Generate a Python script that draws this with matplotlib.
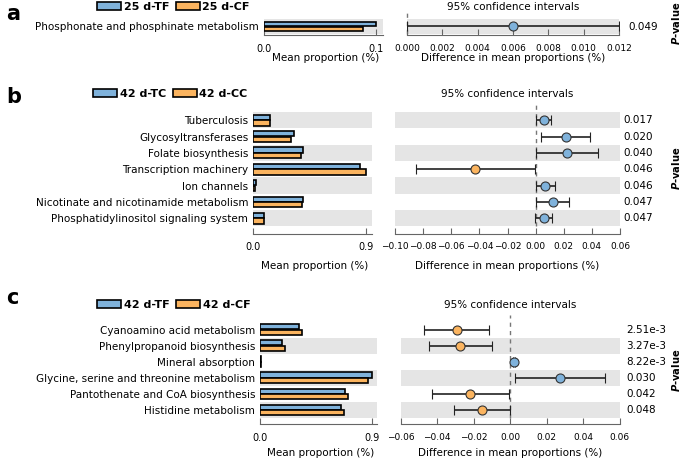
import matplotlib.pyplot as plt
import matplotlib.patches as mpatches
from matplotlib.transforms import blended_transform_factory

W, H = 685, 461

BLUE = '#7fb2db'
ORANGE = '#fbb45f'
BAND = '#e5e5e5'

# panel a
a_groups = ['25 d-TF', '25 d-CF']
a_names = ['Phosphonate and phosphinate metabolism']
a_g1 = [0.100]
a_g2 = [0.088]
a_diff = [0.0060]
a_lo = [0.0000]
a_hi = [0.0120]
a_p = ['0.049']

# panel b
b_groups = ['42 d-TC', '42 d-CC']
b_names = ['Tuberculosis', 'Glycosyltransferases', 'Folate biosynthesis',
           'Transcription machinery', 'Ion channels',
           'Nicotinate and nicotinamide metabolism',
           'Phosphatidylinositol signaling system']
b_g1 = [0.139, 0.326, 0.400, 0.855, 0.020, 0.400, 0.090]
b_g2 = [0.134, 0.307, 0.382, 0.900, 0.018, 0.387, 0.085]
b_diff = [0.0057, 0.0216, 0.0225, -0.0429, 0.0066, 0.0120, 0.0057]
b_lo = [0.0000, 0.0040, 0.0005, -0.0853, 0.0000, 0.0000, -0.0007]
b_hi = [0.0110, 0.0390, 0.0440, -0.0007, 0.0135, 0.0240, 0.0118]
b_p = ['0.017', '0.020', '0.040', '0.046', '0.046', '0.047', '0.047']

# panel c
c_groups = ['42 d-TF', '42 d-CF']
c_names = ['Cyanoamino acid metabolism', 'Phenylpropanoid biosynthesis',
           'Mineral absorption', 'Glycine, serine and threonine metabolism',
           'Pantothenate and CoA biosynthesis', 'Histidine metabolism']
c_g1 = [0.312, 0.174, 0.005, 0.900, 0.684, 0.654]
c_g2 = [0.339, 0.198, 0.005, 0.868, 0.708, 0.673]
c_diff = [-0.0291, -0.0274, 0.0024, 0.0276, -0.0220, -0.0152]
c_lo = [-0.0470, -0.0444, 0.0018, 0.0029, -0.0430, -0.0307]
c_hi = [-0.0113, -0.0100, 0.0030, 0.0520, -0.0007, 0.0000]
c_p = ['2.51e-3', '3.27e-3', '8.22e-3', '0.030', '0.042', '0.048']

plt.rcParams['font.family'] = 'DejaVu Sans'
plt.rcParams['font.size'] = 7.5

fig = plt.figure(figsize=(W / 100, H / 100), dpi=100)


def box(x0, y0, x1, y1):
    return [x0 / W, 1 - y1 / H, (x1 - x0) / W, (y1 - y0) / H]


def fx(x):
    return x / W


def fy(y):
    return 1 - y / H


def style(ax, offset, size):
    for s in ['top', 'left', 'right']:
        ax.spines[s].set_visible(False)
    ax.spines['bottom'].set_position(('outward', offset))
    ax.spines['bottom'].set_color('#666666')
    ax.tick_params(axis='x', direction='in', length=4, color='#666666',
                   labelsize=size, pad=6)
    ax.tick_params(axis='y', length=0)


def panel(letter, groups, names, g1, g2, diff, lo, hi, pvals,
          top, bottom, bx, cx, xmax, xticks, xticklabels,
          cilim, citicks, citickfmt, offset, lab_y, letter_y, leg_y,
          leg_x, p_x, pv_y):
    n = len(names)
    ys = [n - 1 - i for i in range(n)]

    ax1 = fig.add_axes(box(bx[0], top, bx[1], bottom))
    for y in ys:
        if y % 2 == 0:
            ax1.axhspan(y - 0.5, y + 0.5, color=BAND, lw=0, zorder=0)
    ax1.barh([y + 0.17 for y in ys], g1, height=0.32, color=BLUE,
             edgecolor='black', lw=1.2, zorder=2)
    ax1.barh([y - 0.17 for y in ys], g2, height=0.32, color=ORANGE,
             edgecolor='black', lw=1.2, zorder=2)
    ax1.set_xlim(0, xmax)
    ax1.set_ylim(-0.5, n - 0.5)
    ax1.set_yticks(ys)
    ax1.set_yticklabels(names, fontsize=7.5)
    ax1.set_xticks(xticks)
    ax1.set_xticklabels(xticklabels)
    style(ax1, offset, 7)

    ax2 = fig.add_axes(box(cx[0], top, cx[1], bottom))
    for y in ys:
        if y % 2 == 0:
            ax2.axhspan(y - 0.5, y + 0.5, color=BAND, lw=0, zorder=0)
    ax2.axvline(0, ymin=0, ymax=1 + 7 / (bottom - top), color='#777777',
                ls=(0, (3, 3)), lw=1, clip_on=False, zorder=1)
    for y, d, l, h in zip(ys, diff, lo, hi):
        c = BLUE if d > 0 else ORANGE
        ax2.errorbar(d, y, xerr=[[d - l], [h - d]], fmt='o', color=c,
                     mec='#333333', mew=0.8, ms=6.5, ecolor='#222222',
                     elinewidth=1.2, capsize=3.5, capthick=1.2, zorder=3)
    ax2.set_xlim(*cilim)
    ax2.set_ylim(-0.5, n - 0.5)
    ax2.set_yticks([])
    ax2.set_xticks(citicks)
    ax2.set_xticklabels([citickfmt.format(t).replace('-', '\u2212')
                         for t in citicks])
    style(ax2, offset, 6.5)

    trans = blended_transform_factory(fig.transFigure, ax2.transData)
    for y, p in zip(ys, pvals):
        ax2.text(fx(p_x), y, p, transform=trans, ha='left', va='center',
                 fontsize=7.5)

    fig.text(fx(6), fy(letter_y), letter, fontsize=15,
             fontweight='bold', ha='left', va='center')
    fig.text(fx((cx[0] + cx[1]) / 2), fy(leg_y), '95% confidence intervals',
             ha='center', va='center', fontsize=7.5)
    fig.text(fx((bx[0] + bx[1]) / 2 + 2), fy(lab_y), 'Mean proportion (%)',
             ha='center', va='center', fontsize=7.5)
    fig.text(fx((cx[0] + cx[1]) / 2), fy(lab_y),
             'Difference in mean proportions (%)',
             ha='center', va='center', fontsize=7.5)
    fig.text(fx(676), fy(pv_y), r'$\mathbfit{P}$-value', rotation=90,
             ha='center', va='center', fontsize=7.2, fontweight='bold')

    handles = [mpatches.Patch(facecolor=BLUE, edgecolor='black', lw=1.2),
               mpatches.Patch(facecolor=ORANGE, edgecolor='black', lw=1.2)]
    fig.legend(handles, groups, loc='center left',
               bbox_to_anchor=(fx(leg_x), fy(leg_y)), ncol=2, frameon=False,
               handlelength=2.2, handleheight=0.7, handletextpad=0.2,
               columnspacing=0.6, borderpad=0, borderaxespad=0,
               prop={'size': 8, 'weight': 'bold'})


panel('a', a_groups, a_names, a_g1, a_g2, a_diff, a_lo, a_hi, a_p,
      19, 34, (264, 383), (407, 619), 0.106, [0.0, 0.1], ['0.0', '0.1'],
      (0.0, 0.012), [0, 0.002, 0.004, 0.006, 0.008, 0.010, 0.012], '{:.3f}',
      1, 58, 14, 7, 97, 628, 23)

panel('b', b_groups, b_names, b_g1, b_g2, b_diff, b_lo, b_hi, b_p,
      112, 226.5, (253, 371.5), (395, 620), 0.945, [0.0, 0.9], ['0.0', '0.9'],
      (-0.10, 0.06), [-0.10, -0.08, -0.06, -0.04, -0.02, 0.0, 0.02, 0.04, 0.06],
      '{:.2f}', 5.5, 266, 97, 94, 93, 623, 168)

panel('c', c_groups, c_names, c_g1, c_g2, c_diff, c_lo, c_hi, c_p,
      321.5, 418, (260, 377), (400.5, 619.5), 0.94, [0.0, 0.9], ['0.0', '0.9'],
      (-0.06, 0.06), [-0.06, -0.04, -0.02, 0.0, 0.02, 0.04, 0.06],
      '{:.2f}', 4.5, 453, 298, 305, 97, 626, 370)

fig.savefig('out.png', dpi=100)
